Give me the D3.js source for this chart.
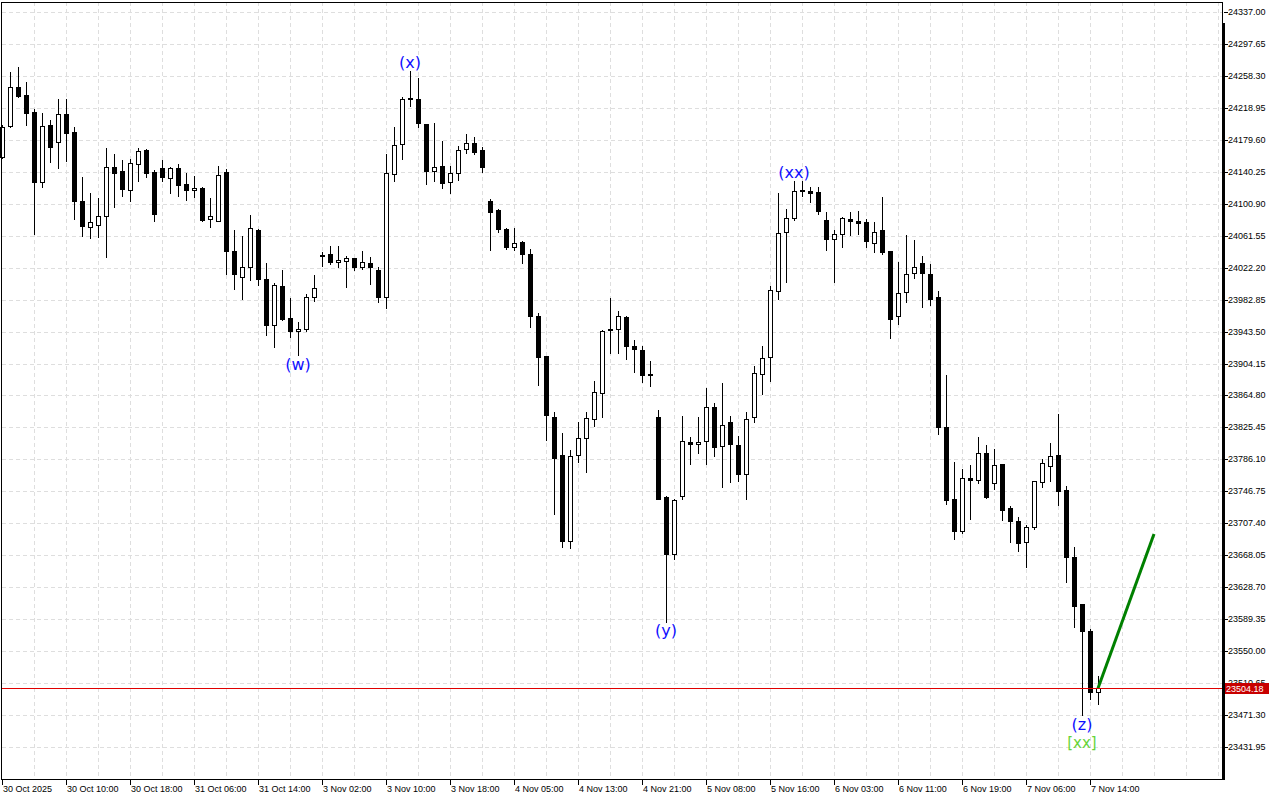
<!DOCTYPE html>
<html><head><meta charset="utf-8">
<script src="https://cdn.jsdelivr.net/npm/d3@7/dist/d3.min.js"></script>
<style>html,body{margin:0;padding:0;background:#fff}svg{display:block}</style>
</head><body>
<script>
// ---- data ----
const timeLabels = ["30 Oct 2025","30 Oct 10:00","30 Oct 18:00","31 Oct 06:00","31 Oct 14:00","3 Nov 02:00","3 Nov 10:00","3 Nov 18:00","4 Nov 05:00","4 Nov 13:00","4 Nov 21:00","5 Nov 08:00","5 Nov 16:00","6 Nov 03:00","6 Nov 11:00","6 Nov 19:00","7 Nov 06:00","7 Nov 14:00"];
const timeLabelIndex = [0,8,16,24,32,40,48,56,64,72,80,88,96,104,112,120,128,136];
const priceTicks = ["24337.00","24297.65","24258.30","24218.95","24179.60","24140.25","24100.90","24061.55","24022.20","23982.85","23943.50","23904.15","23864.80","23825.45","23786.10","23746.75","23707.40","23668.05","23628.70","23589.35","23550.00","23510.65","23471.30","23431.95"];

const opens = [24158.5,24197.0,24244.3,24234.4,24213.5,24128.1,24197.5,24176.6,24211.1,24188.9,24103.9,24071.9,24074.4,24085.4,24145.8,24140.9,24118.2,24149.5,24166.7,24139.6,24144.6,24132.2,24144.6,24124.9,24117.5,24119.9,24081.8,24080.0,24139.6,24042.3,24010.3,24022.6,24068.2,24007.9,23951.2,23999.3,23959.9,23943.8,23946.3,23985.7,24037.4,24038.7,24028.8,24030.0,24033.7,24022.6,24027.6,24019.0,23986.4,24137.2,24174.1,24229.5,24229.5,24198.7,24140.9,24147.0,24127.3,24138.4,24168.0,24175.3,24166.7,24103.9,24092.8,24069.4,24047.3,24053.4,24038.7,23962.3,23913.4,23838.3,23791.5,23686.0,23791.2,23812.1,23835.5,23867.5,23946.3,23946.3,23961.1,23925.4,23920.4,23890.4,23837.9,23739.4,23670.0,23740.7,23807.2,23804.7,23808.4,23850.3,23802.2,23831.8,23803.5,23767.8,23837.9,23890.9,23911.8,23993.1,24065.7,24083.0,24116.2,24116.2,24115.0,24080.5,24057.1,24063.3,24081.8,24079.3,24078.1,24052.2,24068.2,24042.3,23962.3,23991.9,24015.3,24027.6,24014.0,23985.7,23825.6,23736.9,23697.6,23762.8,23760.4,23793.6,23756.7,23780.1,23725.9,23709.9,23684.0,23702.5,23757.9,23778.0,23791.2,23748.0,23665.5,23607.7,23574.8,23499.3];
const highs = [24197.9,24262.8,24268.9,24250.5,24217.2,24212.3,24204.0,24229.5,24229.5,24195.8,24133.5,24113.8,24107.6,24169.2,24161.8,24154.4,24156.0,24169.2,24168.0,24142.1,24154.4,24145.8,24149.5,24138.4,24134.7,24121.0,24107.6,24147.0,24143.3,24068.2,24060.8,24086.7,24069.5,24027.6,24002.9,24019.0,23984.5,23954.9,23989.4,24012.8,24041.1,24048.5,24048.5,24036.2,24034.5,24042.3,24035.0,24022.6,24161.8,24195.0,24232.0,24264.0,24255.4,24199.5,24200.0,24177.8,24147.0,24171.6,24186.4,24182.7,24170.4,24106.4,24094.1,24070.5,24070.7,24054.7,24044.8,23966.0,23914.0,23844.5,23818.6,23797.3,23831.8,23844.1,23882.6,23945.1,23984.5,23968.5,23962.3,23932.8,23925.4,23906.9,23846.6,23740.6,23736.9,23839.2,23813.3,23837.9,23873.6,23855.2,23879.8,23839.2,23814.5,23844.1,23900.7,23925.4,23999.3,24114.1,24094.1,24128.5,24128.5,24121.2,24121.2,24090.4,24068.2,24084.2,24090.4,24091.6,24081.8,24078.1,24108.8,24043.0,24028.8,24062.1,24055.9,24036.2,24026.3,23993.1,23889.7,23782.5,23773.9,23778.8,23813.3,23803.5,23798.5,23781.0,23728.3,23714.8,23704.9,23760.0,23786.2,23805.9,23841.6,23753.0,23678.2,23608.5,23577.6,23519.0];
const lows = [24157.2,24195.0,24232.7,24198.2,24063.3,24121.9,24152.7,24145.3,24153.9,24082.5,24061.6,24059.1,24060.3,24035.7,24097.3,24110.8,24104.7,24129.3,24134.2,24080.0,24129.3,24114.5,24110.8,24105.9,24109.6,24080.0,24072.6,24079.3,24014.0,23996.3,23984.0,24007.0,24001.2,23938.9,23924.9,23957.8,23936.4,23914.3,23943.8,23980.8,24023.9,24026.3,24022.6,23998.8,24019.0,24020.2,24001.7,23979.6,23972.2,24128.5,24155.6,24220.9,24195.0,24125.6,24129.3,24119.9,24113.8,24129.8,24163.0,24161.8,24139.6,24043.6,24065.7,24044.8,24043.6,24027.6,23948.8,23878.1,23810.0,23719.2,23678.6,23677.4,23782.5,23771.0,23827.6,23837.9,23916.7,23916.7,23909.4,23894.1,23881.0,23876.1,23737.0,23586.3,23663.1,23736.9,23780.1,23793.6,23780.1,23789.9,23751.7,23757.9,23759.1,23736.9,23831.8,23866.3,23882.3,23984.0,24004.9,24080.5,24110.1,24102.7,24087.9,24043.6,24004.2,24047.3,24062.1,24064.0,24047.3,24041.1,24038.7,23936.0,23952.5,23980.3,24009.1,23973.4,23975.9,23817.0,23730.8,23688.4,23695.5,23712.3,23756.7,23738.9,23749.3,23711.1,23684.0,23673.7,23654.0,23700.0,23751.7,23759.1,23729.6,23635.5,23580.1,23471.3,23490.7,23484.5];
const closes = [24195.4,24244.3,24234.0,24212.3,24128.1,24196.3,24171.2,24211.1,24187.7,24104.7,24073.1,24078.1,24085.4,24145.8,24139.1,24119.4,24150.7,24165.5,24139.1,24088.6,24133.5,24144.6,24124.4,24118.2,24119.9,24080.9,24085.4,24135.9,24043.1,24014.0,24022.6,24070.7,24008.6,23951.2,24000.5,23959.4,23943.8,23946.3,23985.7,23996.8,24036.2,24028.8,24031.3,24033.7,24022.6,24028.8,24022.6,23985.7,24138.4,24172.9,24229.5,24230.8,24200.0,24140.9,24145.8,24126.1,24138.4,24166.7,24175.3,24164.3,24145.8,24091.1,24069.4,24047.3,24052.2,24038.7,23963.0,23912.6,23840.4,23788.2,23686.0,23789.9,23812.1,23836.7,23868.7,23943.8,23945.1,23962.3,23926.1,23921.7,23890.4,23891.6,23737.7,23670.0,23735.7,23808.4,23804.7,23807.2,23850.3,23801.0,23828.1,23804.7,23767.8,23835.5,23892.1,23910.6,23994.3,24064.5,24083.0,24116.2,24117.5,24113.8,24092.3,24057.9,24063.3,24083.0,24079.3,24076.8,24054.7,24065.7,24041.1,23959.4,23991.4,24014.8,24022.6,24015.3,23984.0,23825.6,23735.7,23698.3,23762.8,23760.7,23793.6,23740.2,23778.8,23724.2,23709.9,23683.5,23702.5,23759.1,23781.3,23789.9,23746.8,23666.3,23605.9,23575.2,23500.0,23504.18];

const lastPrice = 23504.18;
const waveText = ["(w)","(x)","(y)","(xx)","(z)"];
const waveBar = [37,51,83,99,135];
const waveSide = ["low","high","low","high","low"];
const degreeText = ["[xx]"];
const degreeBar = [135];
const forecastBars = [137,144];
const forecastPrices = [23504.18,23694.2];

// ---- layout ----
const W = 1280, H = 800;
const plotL = 2, plotR = 1222, plotT = 2, plotB = 779;
const svg = d3.select("body").append("svg").attr("width", W).attr("height", H)
  .style("font-family","'Liberation Sans', Arial, sans-serif");

const x = d3.scaleLinear().domain([0, 152.5]).range([plotL, plotR]);
const y = d3.scaleLinear().domain([+priceTicks[priceTicks.length-1], +priceTicks[0]]).range([747, 12]);

const px = v => Math.round(v) + 0.5;

// grid
const grid = svg.append("g").attr("stroke","#dedede").attr("stroke-dasharray","4,3").attr("stroke-width",1);
grid.selectAll("line.h").data(priceTicks).enter().append("line")
  .attr("x1", plotL).attr("x2", plotR).attr("y1", d => px(y(+d))).attr("y2", d => px(y(+d)));
const vIdx = d3.range(4, 153, 4);
grid.selectAll("line.v").data(vIdx).enter().append("line")
  .attr("y1", plotT).attr("y2", plotB).attr("x1", d => px(x(d))).attr("x2", d => px(x(d)));

// candles
const candles = svg.append("g").attr("shape-rendering","crispEdges");
const data = opens.map((o,i)=>({i, o, h:highs[i], l:lows[i], c:closes[i]}));
candles.selectAll("line.w").data(data).enter().append("line")
  .attr("x1", d => px(x(d.i))).attr("x2", d => px(x(d.i)))
  .attr("y1", d => Math.round(y(d.h))).attr("y2", d => Math.round(y(d.l)) + 1)
  .attr("stroke","#000").attr("stroke-width",1);
candles.selectAll("path.b").data(data).enter().append("path")
  .attr("d", d => {
    const cx = Math.round(x(d.i));
    const x0 = cx - 1.5, x1 = cx + 2.5;
    const t = px(y(Math.max(d.o,d.c))), b = px(y(Math.min(d.o,d.c)));
    return `M${x0},${t}H${x1}V${b}H${x0}Z`;
  })
  .attr("fill", d => d.c >= d.o ? "#fff" : "#000")
  .attr("stroke","#000").attr("stroke-width",1);

// forecast line
svg.append("line")
  .attr("x1", x(forecastBars[0])).attr("y1", y(forecastPrices[0]))
  .attr("x2", x(forecastBars[1])).attr("y2", y(forecastPrices[1]))
  .attr("stroke","#008000").attr("stroke-width",3);

// last price line
svg.append("line").attr("x1", plotL).attr("x2", plotR)
  .attr("y1", px(y(lastPrice))).attr("y2", px(y(lastPrice)))
  .attr("stroke","#e00000").attr("stroke-width",1).attr("shape-rendering","crispEdges");

// wave labels
svg.selectAll("text.wave").data(waveText).enter().append("text")
  .attr("x", (d,i) => x(waveBar[i]))
  .attr("y", (d,i) => waveSide[i]==="low" ? y(lows[waveBar[i]]) + 9 : y(highs[waveBar[i]]) - 9)
  .attr("text-anchor","middle").attr("dominant-baseline","central")
  .attr("font-family","'DejaVu Sans', sans-serif").attr("font-size",16)
  .attr("fill","#1010ff").text(d => d);
svg.selectAll("text.deg").data(degreeText).enter().append("text")
  .attr("x", (d,i) => x(degreeBar[i]))
  .attr("y", (d,i) => y(lows[degreeBar[i]]) + 28)
  .attr("text-anchor","middle").attr("dominant-baseline","central")
  .attr("font-family","'DejaVu Sans', sans-serif").attr("font-size",15)
  .attr("fill","#66d43a").text(d => d);

// frame
const frame = svg.append("g").attr("shape-rendering","crispEdges").attr("stroke","#000");
frame.append("line").attr("x1",1.5).attr("x2",1.5).attr("y1",plotT).attr("y2",plotB+1);
frame.append("line").attr("x1",1).attr("x2",plotR+1).attr("y1",2.5).attr("y2",2.5);
frame.append("line").attr("x1",1).attr("x2",plotR+2).attr("y1",plotB+0.5).attr("y2",plotB+0.5);
frame.append("line").attr("x1",plotR+0.5).attr("x2",plotR+0.5).attr("y1",plotT).attr("y2",plotB+1);
frame.append("rect").attr("x",plotR).attr("y",23).attr("width",3).attr("height",plotB-23+1).attr("fill","#000").attr("stroke","none");

// right axis
const ra = svg.append("g");
ra.selectAll("line").data(priceTicks).enter().append("line")
  .attr("x1", plotR+2).attr("x2", plotR+6).attr("y1", d => px(y(+d))).attr("y2", d => px(y(+d)))
  .attr("stroke","#000").attr("shape-rendering","crispEdges");
ra.selectAll("text").data(priceTicks).enter().append("text")
  .attr("x", plotR+6).attr("y", d => y(+d)).attr("dominant-baseline","central")
  .attr("font-size",9).attr("fill","#000").text(d => d);

// last price label
const ly = y(lastPrice);
svg.append("rect").attr("x",1225).attr("y",Math.round(ly)-5).attr("width",44).attr("height",11).attr("fill","#c80000");
svg.append("text").attr("x",1226).attr("y",ly+0.5).attr("dominant-baseline","central")
  .attr("font-size",9).attr("fill","#fff").text(lastPrice.toFixed(2));

// bottom axis
const ba = svg.append("g");
ba.selectAll("line").data(timeLabelIndex).enter().append("line")
  .attr("x1", d => px(x(d))).attr("x2", d => px(x(d))).attr("y1", plotB).attr("y2", plotB+6)
  .attr("stroke","#000").attr("shape-rendering","crispEdges");
ba.selectAll("text").data(timeLabels).enter().append("text")
  .attr("x", (d,i) => Math.round(x(timeLabelIndex[i])) + 1).attr("y", 791.5)
  .attr("font-size",9).attr("fill","#000").text(d => d);
</script>
</body></html>
